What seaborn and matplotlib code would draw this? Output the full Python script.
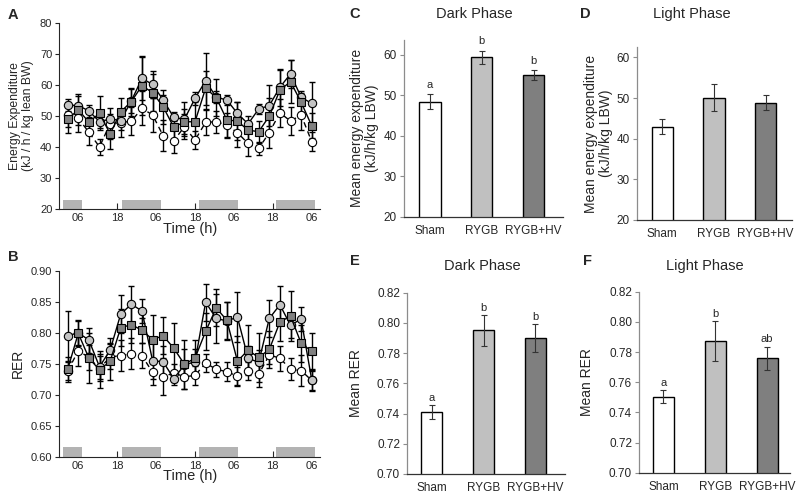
import numpy as np
import pandas as pd
import matplotlib
matplotlib.use("Agg")
import matplotlib.pyplot as plt
import seaborn as sns

sns.set_style("ticks")
plt.rcParams["font.family"] = ["Liberation Sans", "DejaVu Sans"]

# ---------------- data ----------------
bins = list(range(24))
time_tick_pos = [1, 4.667, 8.333, 12, 15.667, 19.333, 23]
time_tick_labels = ["06", "18", "06", "18", "06", "18", "06"]
dark_start = [-0.47, 5.09, 12.42, 19.65]
dark_end = [1.32, 8.77, 16.04, 23.33]

ee_sham = [50.3, 49.2, 44.7, 40.0, 47.5, 47.8, 48.3, 52.4, 50.3, 43.6, 42.0, 46.5,
           42.2, 47.9, 48.1, 47.0, 44.6, 41.1, 39.5, 44.6, 51.0, 48.3, 50.3, 41.7]
ee_sham_err = [4, 4.5, 4, 2.5, 5, 4.5, 4.5, 5.5, 5.5, 5, 4, 4,
               3, 4, 3.5, 4, 4.5, 4, 2, 5, 4.5, 4.5, 5, 3]
ee_rygb = [53.5, 53.3, 51.6, 48.1, 49.0, 48.5, 54.8, 62.1, 60.1, 55.1, 49.5, 48.9,
           55.6, 61.3, 56.0, 55.1, 50.8, 47.4, 52.2, 53.3, 59.2, 63.5, 56.0, 54.0]
ee_rygb_err = [2, 3, 2, 2, 1.5, 3, 4, 7, 4.5, 1.5, 1, 5.5,
               2, 9, 2, 1.5, 3.5, 1, 1.5, 6.5, 6, 4.5, 2, 7]
ee_hv = [49.0, 51.9, 48.0, 50.8, 44.2, 51.3, 54.6, 59.7, 57.5, 52.9, 46.3, 48.1,
         48.1, 58.9, 55.9, 48.7, 48.3, 45.4, 44.9, 49.9, 58.3, 61.0, 54.4, 46.8]
ee_hv_err = [4.5, 5, 4, 5.5, 5, 4.5, 4.5, 9.5, 6, 5.5, 5, 4,
             6.5, 5.5, 6, 5.5, 6, 4.5, 3.5, 6, 6.5, 7, 3, 4]

rer_sham = [0.738, 0.771, 0.760, 0.742, 0.761, 0.763, 0.766, 0.763, 0.736, 0.729, 0.735, 0.729,
            0.731, 0.751, 0.741, 0.737, 0.730, 0.738, 0.733, 0.764, 0.759, 0.741, 0.739, 0.723]
rer_sham_err = [0.015, 0.025, 0.02, 0.02, 0.02, 0.025, 0.025, 0.02, 0.02, 0.03, 0.015, 0.02,
                0.015, 0.015, 0.012, 0.015, 0.015, 0.015, 0.02, 0.015, 0.02, 0.018, 0.025, 0.015]
rer_rygb = [0.795, 0.800, 0.788, 0.745, 0.772, 0.830, 0.846, 0.835, 0.755, 0.753, 0.726, 0.748,
            0.753, 0.849, 0.823, 0.819, 0.825, 0.759, 0.752, 0.823, 0.845, 0.812, 0.822, 0.724]
rer_rygb_err = [0.04, 0.02, 0.02, 0.02, 0.02, 0.03, 0.03, 0.02, 0.03, 0.025, 0.01, 0.025,
                0.02, 0.03, 0.04, 0.03, 0.04, 0.02, 0.02, 0.03, 0.03, 0.02, 0.02, 0.018]
rer_hv = [0.741, 0.799, 0.759, 0.740, 0.754, 0.808, 0.813, 0.804, 0.789, 0.795, 0.775, 0.749,
          0.759, 0.802, 0.840, 0.820, 0.754, 0.772, 0.760, 0.773, 0.817, 0.827, 0.783, 0.770]
rer_hv_err = [0.02, 0.02, 0.04, 0.03, 0.03, 0.03, 0.03, 0.02, 0.04, 0.03, 0.04, 0.04,
              0.03, 0.03, 0.03, 0.03, 0.04, 0.04, 0.04, 0.03, 0.03, 0.04, 0.03, 0.03]

groups = ["Sham", "RYGB", "RYGB+HV"]
ee_dark = [48.4, 59.3, 55.0]
ee_dark_err = [1.9, 1.7, 1.25]
ee_dark_letters = ["a", "b", "b"]
ee_light = [42.9, 50.1, 48.9]
ee_light_err = [1.85, 3.3, 1.85]
ee_light_letters = ["", "", ""]
rer_dark = [0.7411, 0.7951, 0.7900]
rer_dark_err = [0.0045, 0.0102, 0.0090]
rer_dark_letters = ["a", "b", "b"]
rer_light = [0.7504, 0.7872, 0.7760]
rer_light_err = [0.0045, 0.0133, 0.0076]
rer_light_letters = ["a", "b", "ab"]

bar_colors = ["#ffffff", "#c0c0c0", "#7f7f7f"]

# ---------------- figure ----------------
W, H = 800, 499
fig = plt.figure(figsize=(8, 4.99), dpi=100)


def add_ax(left, top, right, bottom):
    return fig.add_axes([left / W, 1 - bottom / H, (right - left) / W, (bottom - top) / H])


def time_panel(ax, sham, sham_e, rygb, rygb_e, hv, hv_e, ylim, yticks, yfmt, dark_h,
               ylabel, ylabel_size):
    for vals, errs in [(sham, sham_e), (rygb, rygb_e), (hv, hv_e)]:
        ax.errorbar(bins, vals, yerr=errs, fmt="none", ecolor="black",
                    elinewidth=1.0, capsize=2.4, capthick=1.0, zorder=2)
    sns.lineplot(x=bins, y=sham, ax=ax, color="black", lw=1.0,
                 marker="o", markersize=6.0, markerfacecolor="white",
                 markeredgecolor="black", markeredgewidth=0.8, zorder=3)
    ax.lines[-1].set_dashes((4, 3))
    sns.lineplot(x=bins, y=rygb, ax=ax, color="black", lw=1.0,
                 marker="o", markersize=6.0, markerfacecolor="#c4c4c4",
                 markeredgecolor="black", markeredgewidth=0.8, zorder=4)
    sns.lineplot(x=bins, y=hv, ax=ax, color="black", lw=1.0,
                 marker="s", markersize=5.5, markerfacecolor="#808080",
                 markeredgecolor="black", markeredgewidth=0.8, zorder=5)
    widths = [e - s for s, e in zip(dark_start, dark_end)]
    ax.bar(dark_start, dark_h, width=widths, bottom=ylim[0], align="edge",
           color="#b3b3b3", linewidth=0, zorder=1)
    ax.set_xlim(-0.79, 23.78)
    ax.set_ylim(*ylim)
    ax.set_yticks(yticks)
    ax.set_yticklabels([yfmt.format(v) for v in yticks], fontsize=8)
    ax.set_xticks(time_tick_pos)
    ax.set_xticklabels(time_tick_labels, fontsize=8)
    ax.tick_params(axis="x", direction="in", length=4, width=0.8, pad=3)
    ax.tick_params(axis="y", direction="out", length=3, width=0.8, pad=2)
    sns.despine(ax=ax)
    for sp in ["left", "bottom"]:
        ax.spines[sp].set_linewidth(0.8)
    ax.set_xlabel("Time (h)", fontsize=10.5, labelpad=-1)
    ax.set_ylabel(ylabel, fontsize=ylabel_size, linespacing=1.1)


axA = add_ax(59.3, 22.7, 320, 209)
time_panel(axA, ee_sham, ee_sham_err, ee_rygb, ee_rygb_err, ee_hv, ee_hv_err,
           (20, 80), [20, 30, 40, 50, 60, 70, 80], "{:.0f}", 3.0,
           "Energy Expenditure\n(kJ / h / kg lean BW)", 8.8)
axA.yaxis.set_label_coords(-0.097, 0.50)

axB = add_ax(59.3, 270.7, 320, 456.7)
time_panel(axB, rer_sham, rer_sham_err, rer_rygb, rer_rygb_err, rer_hv, rer_hv_err,
           (0.60, 0.90), [0.60, 0.65, 0.70, 0.75, 0.80, 0.85, 0.90], "{:.2f}", 0.016,
           "RER", 10)
axB.yaxis.set_label_coords(-0.132, 0.5)


def bar_panel(ax, means, errs, letters, ylim, yticks, yfmt, xlim, ylabel, letter_off):
    df = pd.DataFrame({"group": groups, "value": means})
    sns.barplot(data=df, x="group", y="value", hue="group", palette=bar_colors,
                edgecolor="black", linewidth=1.0, width=0.41, legend=False, ax=ax)
    ax.errorbar(range(3), means, yerr=errs, fmt="none", ecolor="#333333",
                elinewidth=0.8, capsize=2.2, capthick=0.8, zorder=5)
    for i, (m, e, t) in enumerate(zip(means, errs, letters)):
        if t:
            ax.text(i, m + e + letter_off, t, ha="center", va="bottom", fontsize=8)
    ax.set_xlim(*xlim)
    ax.set_ylim(*ylim)
    ax.set_yticks(yticks)
    ax.set_yticklabels([yfmt.format(v) for v in yticks], fontsize=8.5)
    ax.tick_params(axis="x", length=0, labelsize=8.5, pad=6)
    ax.tick_params(axis="y", direction="out", length=3, width=0.8, color="#8c8c8c", pad=2)
    sns.despine(ax=ax)
    ax.spines["left"].set_color("#8c8c8c")
    ax.spines["left"].set_linewidth(0.9)
    ax.spines["bottom"].set_color("#333333")
    ax.spines["bottom"].set_linewidth(0.9)
    ax.set_xlabel("")
    ax.set_ylabel(ylabel, fontsize=10, linespacing=1.05)


axC = add_ax(404, 40, 563, 216.7)
bar_panel(axC, ee_dark, ee_dark_err, ee_dark_letters, (20, 63.6), [20, 30, 40, 50, 60],
          "{:.0f}", (-0.503, 2.57), "Mean energy expenditure\n(kJ/h/kg LBW)", 1.0)
axC.yaxis.set_label_coords(-0.157, 0.5)

axD = add_ax(637, 47.3, 792, 220)
bar_panel(axD, ee_light, ee_light_err, ee_light_letters, (20, 62.5), [20, 30, 40, 50, 60],
          "{:.0f}", (-0.49, 2.51), "Mean energy expenditure\n(kJ/h/kg LBW)", 1.0)
axD.yaxis.set_label_coords(-0.155, 0.5)

axE = add_ax(407, 292.7, 565, 474)
bar_panel(axE, rer_dark, rer_dark_err, rer_dark_letters, (0.70, 0.82),
          [0.70, 0.72, 0.74, 0.76, 0.78, 0.80, 0.82], "{:.2f}", (-0.48, 2.57), "Mean RER", 0.0015)
axE.yaxis.set_label_coords(-0.278, 0.5)

axF = add_ax(639, 291.7, 790, 472.7)
bar_panel(axF, rer_light, rer_light_err, rer_light_letters, (0.70, 0.82),
          [0.70, 0.72, 0.74, 0.76, 0.78, 0.80, 0.82], "{:.2f}", (-0.47, 2.44), "Mean RER", 0.0015)
axF.yaxis.set_label_coords(-0.298, 0.5)


def ftext(x, y, s, **kw):
    fig.text(x / W, 1 - y / H, s, **kw)


ftext(474, 14, "Dark Phase", ha="center", va="center", fontsize=10.5)
ftext(692, 14, "Light Phase", ha="center", va="center", fontsize=10.5)
ftext(482, 266, "Dark Phase", ha="center", va="center", fontsize=10.5)
ftext(705, 266, "Light Phase", ha="center", va="center", fontsize=10.5)
for lx, ly, lt in [(13, 15, "A"), (13, 257, "B"), (355, 14, "C"), (585, 14, "D"),
                   (355, 261, "E"), (587, 261, "F")]:
    ftext(lx, ly, lt, ha="center", va="center", fontsize=10.5, fontweight="bold")

fig.savefig("out.png", dpi=100)
